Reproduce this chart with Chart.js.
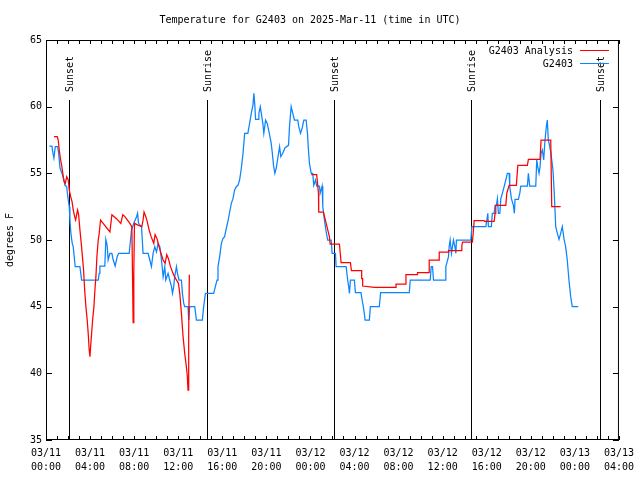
<!DOCTYPE html>
<html>
<head>
<meta charset="utf-8">
<script src="https://cdn.jsdelivr.net/npm/chart.js@4.4.1/dist/chart.umd.min.js"></script>
<style>
  html, body { margin: 0; padding: 0; background: #fff; }
</style>
</head>
<body>
<canvas id="chart" width="640" height="480"></canvas>
<script>
// hours are counted from 03/11 00:00 UTC
const titleText = 'Temperature for G2403 on 2025-Mar-11 (time in UTC)';
const yTitle = 'degrees F';
const xMin = 0, xMax = 52;
const yMin = 35, yMax = 65;
const labelEvery = 4;
const month = '03', firstDay = 11;

const sunLabels = ['Sunset', 'Sunrise', 'Sunset', 'Sunrise', 'Sunset'];
const sunHours = [2.08, 14.58, 26.18, 38.56, 50.24];

// G2403 observed, [hour, degF]
const g2403 = [
  [0.30,57.05],[0.54,57.05],[0.61,56.6],[0.72,56.15],[0.84,57.0],[1.06,57.0],[1.15,56.5],[1.27,55.4],[1.45,55.0],[1.63,54.5],
  [1.72,54.1],[1.88,54.0],[1.93,53.6],[2.02,53.0],[2.11,52.5],[2.17,51.5],[2.26,50.5],[2.38,49.75],[2.47,49.5],[2.56,48.75],
  [2.65,48.0],[3.08,48.0],[3.23,47.0],[4.74,47.0],[4.83,47.5],[4.89,48.05],[5.34,48.05],[5.43,50.05],[5.55,49.6],[5.64,48.5],
  [5.80,49.0],[5.98,49.0],[6.10,48.5],[6.28,48.05],[6.46,48.75],[6.59,49.0],[7.55,49.0],[7.67,50.0],[7.76,50.75],[7.97,51.25],
  [8.22,51.75],[8.31,52.0],[8.40,51.25],[8.67,51.0],[8.81,49.0],[9.27,49.0],[9.42,48.5],[9.57,48.0],[9.72,49.0],[9.87,49.5],
  [10.03,49.1],[10.17,49.75],[10.33,49.5],[10.48,48.5],[10.63,47.25],[10.78,48.0],[10.87,47.0],[11.08,47.5],[11.23,47.0],[11.39,46.5],
  [11.48,46.0],[11.59,46.5],[11.68,47.25],[11.84,48.0],[11.93,47.5],[12.07,47.0],[12.29,47.0],[12.38,46.0],[12.50,45.25],[12.59,45.0],
  [12.89,45.0],[12.95,44.0],[13.04,45.0],[13.50,45.0],[13.65,44.0],[14.19,44.0],[14.31,45.0],[14.47,46.0],[15.22,46.0],[15.37,46.5],
  [15.52,47.0],[15.61,48.0],[15.76,48.75],[15.92,49.75],[16.06,50.1],[16.21,50.25],[16.37,50.9],[16.51,51.4],[16.67,52.1],[16.82,52.75],
  [16.97,53.1],[17.12,53.75],[17.27,54.0],[17.42,54.1],[17.57,54.5],[17.73,55.4],[17.87,56.4],[18.03,58.0],[18.32,58.0],[18.48,58.75],
  [18.63,59.5],[18.78,60.1],[18.87,61.0],[18.96,60.0],[19.02,59.05],[19.27,59.05],[19.32,59.5],[19.45,60.0],[19.54,59.5],[19.68,58.75],
  [19.77,58.0],[19.93,59.0],[20.08,58.75],[20.29,57.9],[20.44,57.25],[20.53,56.6],[20.65,55.6],[20.77,55.0],[20.90,55.4],[21.01,56.0],
  [21.20,57.0],[21.31,56.25],[21.49,56.5],[21.68,56.9],[22.01,57.1],[22.10,58.5],[22.25,60.0],[22.40,59.5],[22.55,59.0],[22.85,59.0],
  [22.94,58.5],[23.10,58.0],[23.25,58.4],[23.40,59.0],[23.61,59.0],[23.73,58.0],[23.82,56.75],[23.91,55.75],[24.07,55.0],[24.21,55.0],
  [24.30,54.1],[24.46,54.5],[24.57,54.05],[24.82,54.05],[24.88,53.5],[25.06,54.05],[25.12,52.5],[25.27,51.5],[25.43,50.6],[25.57,50.0],
  [25.88,50.0],[25.97,49.0],[26.27,49.0],[26.33,48.0],[27.24,48.0],[27.38,47.0],[27.47,46.5],[27.54,46.0],[27.63,47.0],[27.99,47.0],
  [28.08,46.05],[28.59,46.05],[28.69,45.5],[28.80,45.0],[28.89,44.5],[28.96,44.0],[29.35,44.0],[29.44,45.0],[30.25,45.0],[30.37,46.05],
  [32.97,46.05],[33.06,47.0],[34.87,47.0],[34.96,48.0],[35.08,48.0],[35.17,47.0],[36.23,47.0],[36.29,48.0],[36.53,48.75],[36.59,49.5],
  [36.68,50.0],[36.80,49.0],[36.98,50.0],[37.11,49.5],[37.20,49.0],[37.25,50.0],[38.56,50.0],[38.65,51.0],[39.92,51.0],[40.01,51.5],
  [40.10,52.0],[40.15,51.0],[40.42,51.0],[40.51,52.0],[40.67,52.0],[40.76,52.6],[40.88,52.6],[40.97,53.1],[41.06,52.0],[41.19,52.0],
  [41.28,53.1],[41.42,53.5],[41.58,54.0],[41.73,54.5],[41.87,55.0],[42.03,55.0],[42.09,54.0],[42.24,53.1],[42.42,52.6],[42.51,52.0],
  [42.57,53.05],[42.87,53.05],[43.00,53.5],[43.09,54.05],[43.69,54.05],[43.78,55.0],[43.90,54.05],[44.45,54.05],[44.54,56.0],[44.63,55.5],
  [44.75,55.0],[44.84,55.5],[44.93,56.5],[45.05,56.75],[45.17,56.0],[45.29,57.5],[45.41,58.5],[45.50,59.0],[45.59,57.5],[45.72,57.0],
  [45.83,56.5],[46.01,55.25],[46.13,53.5],[46.26,51.0],[46.41,50.5],[46.56,50.05],[46.71,50.5],[46.86,51.0],[47.01,50.1],[47.16,49.5],
  [47.31,48.5],[47.46,47.0],[47.62,45.75],[47.76,45.0],[48.31,45.0]
];

// G2403 Analysis, [hour, degF]; null marks the gap
const g2403Analysis = [
  [0.72,57.75],[1.02,57.75],[1.11,57.5],[1.20,56.75],[1.33,56.0],[1.42,55.6],[1.51,55.1],[1.63,54.4],[1.75,54.25],[1.88,54.75],
  [2.02,54.5],[2.11,53.75],[2.24,53.25],[2.36,52.9],[2.47,52.25],[2.60,51.75],[2.69,51.5],[2.78,51.9],[2.87,52.25],[2.96,51.9],
  [3.08,50.75],[3.20,49.75],[3.29,48.9],[3.41,47.75],[3.51,46.25],[3.62,45.0],[3.74,44.0],[3.83,43.0],[3.92,41.75],[3.99,41.25],
  [4.05,42.0],[4.14,43.0],[4.23,44.0],[4.35,45.0],[4.44,46.25],[4.53,47.25],[4.62,48.75],[4.74,50.0],[4.83,50.5],[4.95,51.5],
  [5.80,50.6],[5.89,51.25],[5.98,51.9],[6.40,51.6],[6.79,51.25],[6.97,51.9],[7.16,51.75],[7.61,51.25],[7.79,51.0],[7.85,47.5],
  [7.91,43.8],[7.97,47.5],[8.03,51.25],[8.40,51.1],[8.70,51.0],[8.81,51.5],[8.90,52.1],[9.06,51.75],[9.18,51.4],[9.36,50.75],
  [9.54,50.25],[9.66,50.0],[9.78,49.75],[9.90,50.4],[10.08,50.1],[10.26,49.5],[10.44,49.0],[10.63,48.5],[10.81,48.25],[10.96,48.9],
  [11.11,48.6],[11.30,48.0],[11.48,47.6],[11.66,47.25],[11.84,47.0],[12.02,46.75],[12.14,46.0],[12.29,44.5],[12.44,42.75],[12.59,41.5],
  [12.74,40.5],[12.83,39.75],[12.89,38.75],[12.95,43.0],[13.01,47.4],
  [18.5,null],
  [24.07,54.9],[24.57,54.9],[24.73,53.5],[24.75,52.1],[25.18,52.1],[25.72,50.25],[25.79,49.7],[26.63,49.7],[26.78,48.3],[27.63,48.3],
  [27.72,47.7],[28.65,47.7],[28.65,47.1],[28.74,47.1],[28.74,46.55],[29.80,46.45],[31.77,46.45],[31.77,46.7],[32.67,46.7],[32.67,47.4],
  [33.72,47.4],[33.72,47.55],[34.78,47.55],[34.78,48.5],[35.69,48.5],[35.69,49.1],[36.53,49.1],[36.53,49.2],[37.74,49.2],[37.74,49.55],
  [37.80,49.85],[38.70,49.85],[38.77,50.5],[38.86,51.45],[39.76,51.45],[39.82,51.4],[40.67,51.4],[40.76,52.0],[40.82,52.6],[41.73,52.6],
  [41.82,53.5],[42.03,54.1],[42.69,54.1],[42.82,55.6],[43.69,55.6],[43.78,56.05],[44.84,56.05],[44.93,57.5],[45.81,57.5],[45.90,52.5],
  [46.71,52.5]
];

const FONT = "'DejaVu Sans Mono', monospace";
const RED = '#ff0000';
const BLUE = '#0a84ff';

const toXY = (rows) => rows.map(([h, t]) => ({ x: h, y: t }));

const pad2 = (n) => String(n).padStart(2, '0');
const hourLabel = (h) => {
  if (h % labelEvery !== 0) return '';
  const day = firstDay + Math.floor(h / 24);
  return [month + '/' + pad2(day), pad2(h % 24) + ':00'];
};

// border, inward ticks, sunrise/sunset markers and the key, gnuplot style
const gnuplotFrame = {
  id: 'gnuplotFrame',
  beforeDatasetsDraw(chart) {
    const { ctx, chartArea: a, scales: { x } } = chart;
    ctx.save();
    ctx.strokeStyle = '#000';
    ctx.fillStyle = '#000';
    ctx.lineWidth = 1;
    ctx.font = '10px ' + FONT;
    sunHours.forEach((h, i) => {
      const px = Math.round(x.getPixelForValue(h)) + 0.5;
      ctx.beginPath();
      ctx.moveTo(px, a.top + 60);
      ctx.lineTo(px, a.bottom);
      ctx.stroke();
      ctx.save();
      ctx.translate(px + 1, a.top + 52);
      ctx.rotate(-Math.PI / 2);
      ctx.textAlign = 'left';
      ctx.textBaseline = 'middle';
      ctx.fillText(sunLabels[i], 0, 0);
      ctx.restore();
    });
    ctx.restore();
  },
  afterDatasetsDraw(chart) {
    const { ctx, chartArea: a, scales: { x, y } } = chart;
    ctx.save();
    ctx.strokeStyle = '#000';
    ctx.lineWidth = 1;
    ctx.strokeRect(a.left + 0.5, a.top + 0.5, a.right - a.left - 1, a.bottom - a.top - 1);
    ctx.beginPath();
    x.ticks.forEach((t) => {
      const px = Math.round(x.getPixelForValue(t.value)) + 0.5;
      ctx.moveTo(px, a.bottom); ctx.lineTo(px, a.bottom - 4);
      ctx.moveTo(px, a.top); ctx.lineTo(px, a.top + 4);
    });
    y.ticks.forEach((t) => {
      const py = Math.round(y.getPixelForValue(t.value)) + 0.5;
      ctx.moveTo(a.left, py); ctx.lineTo(a.left + 6, py);
      ctx.moveTo(a.right, py); ctx.lineTo(a.right - 6, py);
    });
    ctx.stroke();

    // key, top right inside the plot
    ctx.font = '10px ' + FONT;
    ctx.textAlign = 'right';
    ctx.textBaseline = 'middle';
    chart.data.datasets.forEach((ds, i) => {
      const ly = a.top + 10 + i * 13;
      ctx.fillStyle = '#000';
      ctx.fillText(ds.label, a.right - 46, ly + 1);
      ctx.strokeStyle = ds.borderColor;
      ctx.beginPath();
      ctx.moveTo(a.right - 39, ly + 0.5);
      ctx.lineTo(a.right - 10, ly + 0.5);
      ctx.stroke();
    });
    ctx.restore();
  }
};

new Chart(document.getElementById('chart'), {
  type: 'line',
  data: {
    datasets: [
      {
        label: 'G2403 Analysis',
        data: toXY(g2403Analysis),
        borderColor: RED,
        borderWidth: 1.25,
        pointRadius: 0,
        tension: 0,
        spanGaps: false,
      },
      {
        label: 'G2403',
        data: toXY(g2403),
        borderColor: BLUE,
        borderWidth: 1.25,
        pointRadius: 0,
        tension: 0,
      },
    ],
  },
  options: {
    responsive: false,
    animation: false,
    devicePixelRatio: 1,
    layout: { padding: { left: 0, right: 20, top: 0, bottom: 0 } },
    plugins: {
      legend: { display: false },
      tooltip: { enabled: false },
      title: {
        display: true,
        text: titleText,
        color: '#000',
        font: { family: FONT, size: 10, weight: 'normal', lineHeight: 1.2 },
        padding: { top: 14, bottom: 14 },
      },
    },
    scales: {
      x: {
        type: 'linear',
        min: xMin,
        max: xMax,
        grid: { display: false, drawTicks: false },
        border: { display: false },
        afterFit: (s) => { s.height = 40; },
        ticks: {
          stepSize: 1,
          autoSkip: false,
          maxRotation: 0,
          padding: 6,
          color: '#000',
          font: { family: FONT, size: 10, lineHeight: 1.45 },
          callback: (v) => hourLabel(v),
        },
      },
      y: {
        min: yMin,
        max: yMax,
        grid: { display: false, drawTicks: false },
        border: { display: false },
        afterFit: (s) => { s.width = 46; },
        title: {
          display: true,
          text: yTitle,
          color: '#000',
          font: { family: FONT, size: 10 },
          padding: { top: 4, bottom: 0 },
        },
        ticks: {
          stepSize: 5,
          padding: 4,
          color: '#000',
          font: { family: FONT, size: 10 },
        },
      },
    },
  },
  plugins: [gnuplotFrame],
});
</script>
</body>
</html>
